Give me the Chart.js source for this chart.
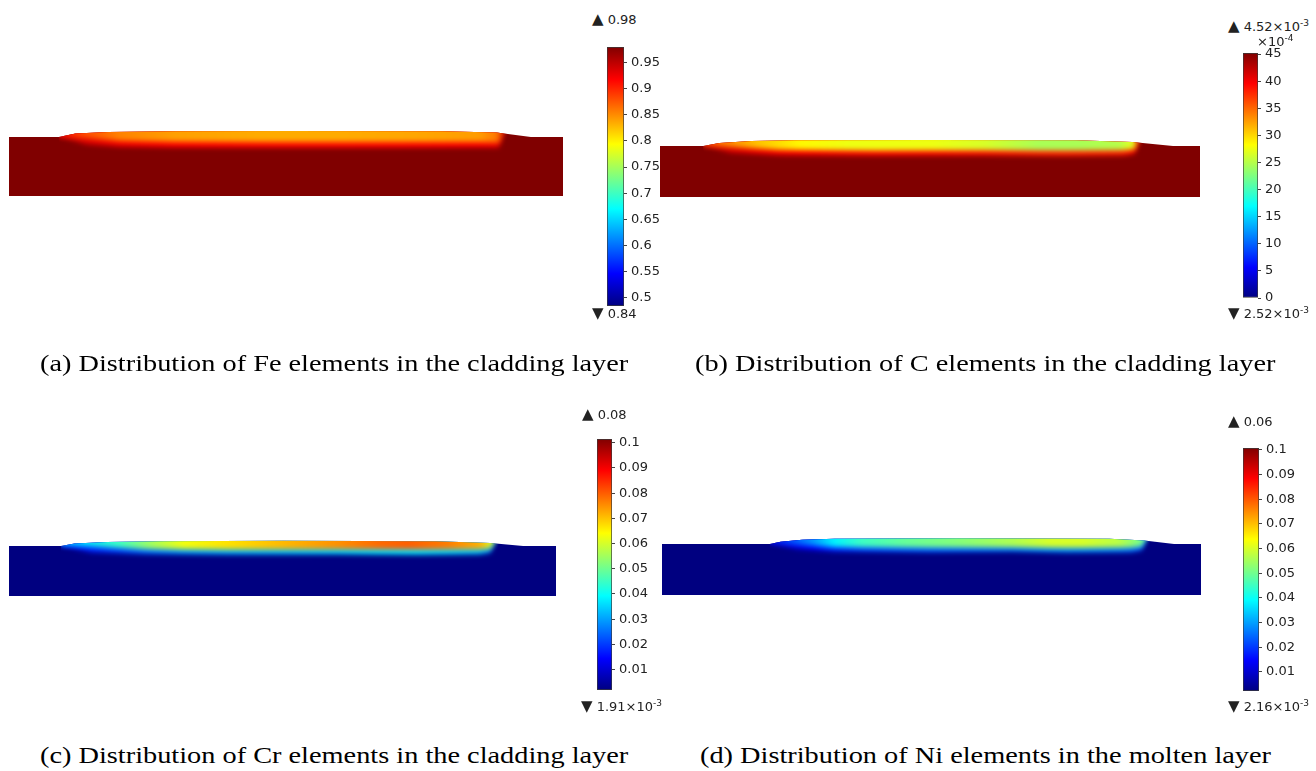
<!DOCTYPE html>
<html>
<head>
<meta charset="utf-8">
<script src="https://cdn.jsdelivr.net/npm/chart.js@4.4.1/dist/chart.umd.min.js"></script>
<style>
  body { margin: 0; background: #fff; width: 1316px; height: 771px; position: relative; overflow: hidden; font-family: "DejaVu Sans", sans-serif; }
  canvas { position: absolute; }
  .lab { position: absolute; font-size: 13px; color: #222; white-space: nowrap; line-height: 14px; }
  .lab b { font-weight: normal; font-size: 15px; }
  .lab sup { font-size: 9px; vertical-align: 5px; line-height: 0; }
  .cap { position: absolute; font-family: "Liberation Serif", "Times New Roman", serif; font-size: 24px; color: #000; white-space: nowrap; line-height: 28px; transform: scaleX(1.18); transform-origin: 0 50%; }
</style>
</head>
<body>
<script>
// ---- data (x, heights in mm; domain is 10 mm wide) ----

// (a) Fe
const feSurfX = [0, 0.9, 1.2, 1.8, 3.0, 5.0, 7.8, 8.8, 9.42, 10];
const feSurfY = [1.065, 1.065, 1.13, 1.155, 1.17, 1.175, 1.168, 1.145, 1.065, 1.065];
const feTopX = [0.9, 1.3, 2.0, 3.0, 4.5, 6.0, 7.5, 8.5, 8.8, 9.0];
const feTopV = [0.92, 0.885, 0.855, 0.84, 0.835, 0.835, 0.838, 0.842, 0.86, 0.95];
const feCladX = [0.9, 1.4, 2.0, 3.0, 5.0, 7.0, 8.5, 8.85, 9.0];
const feCladY = [1.065, 1.04, 0.995, 0.98, 0.975, 0.975, 0.975, 0.96, 1.3];
const feMixY = [1.065, 0.93, 0.89, 0.875, 0.87, 0.87, 0.875, 0.87, 1.3];
const feTicks = [0.5, 0.55, 0.6, 0.65, 0.7, 0.75, 0.8, 0.85, 0.9, 0.95];
const feTickLabels = ["0.5", "0.55", "0.6", "0.65", "0.7", "0.75", "0.8", "0.85", "0.9", "0.95"];

// (b) C  (x10^-4)
const cSurfX = [0, 0.8, 1.1, 1.7, 2.5, 5.0, 7.7, 8.75, 9.5, 10];
const cSurfY = [0.944, 0.944, 1.0, 1.035, 1.05, 1.056, 1.05, 1.02, 0.944, 0.944];
const cTopX = [0.8, 1.2, 1.8, 2.6, 3.5, 5.0, 6.0, 7.0, 7.8, 8.5, 8.75, 8.9];
const cTopV = [37, 34, 31, 28.5, 27.5, 27.5, 26.5, 24.5, 24.5, 25, 27, 40];
const cCladX = [0.8, 1.3, 2.2, 4.0, 6.0, 7.5, 8.6, 8.8, 8.95];
const cCladY = [0.944, 0.92, 0.875, 0.86, 0.865, 0.86, 0.865, 0.89, 1.2];
const cMixY = [0.944, 0.82, 0.775, 0.765, 0.77, 0.76, 0.77, 0.8, 1.2];
const cTicks = [0, 5, 10, 15, 20, 25, 30, 35, 40, 45];
const cTickLabels = ["0", "5", "10", "15", "20", "25", "30", "35", "40", "45"];

// (c) Cr
const crSurfX = [0, 0.95, 1.2, 1.8, 2.8, 5.0, 7.8, 8.8, 9.4, 10];
const crSurfY = [0.914, 0.914, 0.96, 0.985, 1.0, 1.008, 1.0, 0.97, 0.914, 0.914];
const crTopX = [0.95, 1.4, 2.0, 2.6, 3.2, 4.0, 5.0, 6.0, 6.8, 7.3, 8.0, 8.6, 8.85];
const crTopV = [0.03, 0.036, 0.045, 0.055, 0.063, 0.067, 0.071, 0.075, 0.079, 0.08, 0.077, 0.072, 0.06];
const crCladX = [0.95, 1.5, 2.5, 4.0, 6.0, 7.5, 8.6, 8.8, 8.95];
const crCladY = [0.914, 0.9, 0.86, 0.85, 0.855, 0.85, 0.855, 0.87, 1.1];
const crMixY = [0.914, 0.8, 0.77, 0.76, 0.765, 0.755, 0.765, 0.79, 1.1];
const crTicks = [0.01, 0.02, 0.03, 0.04, 0.05, 0.06, 0.07, 0.08, 0.09, 0.1];
const crTickLabels = ["0.01", "0.02", "0.03", "0.04", "0.05", "0.06", "0.07", "0.08", "0.09", "0.1"];

// (d) Ni
const niSurfX = [0, 2.0, 2.2, 2.6, 3.2, 5.5, 8.3, 8.95, 9.5, 10];
const niSurfY = [0.946, 0.946, 0.99, 1.025, 1.045, 1.052, 1.045, 1.01, 0.946, 0.946];
const niTopX = [2.0, 2.4, 2.8, 3.2, 3.7, 4.5, 5.5, 6.5, 7.2, 7.8, 8.5, 8.9];
const niTopV = [0.012, 0.022, 0.029, 0.038, 0.045, 0.049, 0.052, 0.056, 0.06, 0.06, 0.057, 0.05];
const niCladX = [2.0, 2.5, 3.2, 5.0, 6.5, 7.5, 8.7, 8.9, 9.05];
const niCladY = [0.946, 0.93, 0.89, 0.88, 0.885, 0.875, 0.88, 0.9, 1.15];
const niMixY = [0.946, 0.85, 0.805, 0.795, 0.805, 0.79, 0.795, 0.825, 1.15];
const niTicks = [0.01, 0.02, 0.03, 0.04, 0.05, 0.06, 0.07, 0.08, 0.09, 0.1];
const niTickLabels = ["0.01", "0.02", "0.03", "0.04", "0.05", "0.06", "0.07", "0.08", "0.09", "0.1"];

// ---- layout ----
const panels = [
  { dom: [9, 563, 126, 196], bar: [607, 17, 47, 306], range: [0.484, 0.98], sub: 0.98, mixW: 0.55,
    surfX: feSurfX, surfY: feSurfY, topX: feTopX, topV: feTopV, cladX: feCladX, cladY: feCladY, mixY: feMixY,
    ticks: feTicks, tickLabels: feTickLabels },
  { dom: [660, 1200, 136, 197], bar: [1243, 15, 53, 298], range: [0, 45.2], sub: 45.2, mixW: 0.65,
    surfX: cSurfX, surfY: cSurfY, topX: cTopX, topV: cTopV, cladX: cCladX, cladY: cCladY, mixY: cMixY,
    ticks: cTicks, tickLabels: cTickLabels },
  { dom: [9, 556, 536, 596], bar: [597, 15, 439, 690], range: [0.0019, 0.1015], sub: 0.0019, mixW: 0.55,
    surfX: crSurfX, surfY: crSurfY, topX: crTopX, topV: crTopV, cladX: crCladX, cladY: crCladY, mixY: crMixY,
    ticks: crTicks, tickLabels: crTickLabels },
  { dom: [662, 1201, 534, 595], bar: [1243, 16, 448, 691], range: [0.0022, 0.1008], sub: 0.0022, mixW: 0.55,
    surfX: niSurfX, surfY: niSurfY, topX: niTopX, topV: niTopV, cladX: niCladX, cladY: niCladY, mixY: niMixY,
    ticks: niTicks, tickLabels: niTickLabels }
];

const labels = [
  ["<b>&#9650;</b> 0.98", 592, 19], ["<b>&#9660;</b> 0.84", 592, 313],
  ["<b>&#9650;</b> 4.52&times;10<sup>-3</sup>", 1228, 26], ["&times;10<sup>-4</sup>", 1257, 42], ["<b>&#9660;</b> 2.52&times;10<sup>-3</sup>", 1228, 313],
  ["<b>&#9650;</b> 0.08", 582, 414], ["<b>&#9660;</b> 1.91&times;10<sup>-3</sup>", 581, 706],
  ["<b>&#9650;</b> 0.06", 1228, 421], ["<b>&#9660;</b> 2.16&times;10<sup>-3</sup>", 1228, 706]
];
const captions = [
  ["(a) Distribution of Fe elements in the cladding layer", 40, 363],
  ["(b) Distribution of C elements in the cladding layer", 695, 363],
  ["(c) Distribution of Cr elements in the cladding layer", 40, 755],
  ["(d) Distribution of Ni elements in the molten layer", 700, 755]
];

// ---- helpers ----
const jetStops = [[0, [0, 0, 128]], [0.125, [0, 0, 255]], [0.375, [0, 255, 255]], [0.625, [255, 255, 0]], [0.875, [255, 0, 0]], [1, [128, 0, 0]]];
function jet(t) {
  t = Math.max(0, Math.min(1, t));
  for (let i = 1; i < jetStops.length; i++) {
    const [t0, c0] = jetStops[i - 1], [t1, c1] = jetStops[i];
    if (t <= t1) {
      const f = (t - t0) / (t1 - t0);
      return "rgb(" + c0.map((c, k) => Math.round(c + (c1[k] - c) * f)).join(",") + ")";
    }
  }
  return "rgb(128,0,0)";
}

function makeCanvas(left, top, w, h) {
  const cv = document.createElement("canvas");
  cv.width = w; cv.height = h;
  cv.style.left = left + "px"; cv.style.top = top + "px";
  cv.style.width = w + "px"; cv.style.height = h + "px";
  document.body.appendChild(cv);
  return cv;
}

function hGrad(chart, xs, colors) {
  const area = chart.chartArea, sx = chart.scales.x;
  if (!area || !sx) return colors[0];
  const g = chart.ctx.createLinearGradient(area.left, 0, area.right, 0);
  xs.forEach((x, i) => {
    const o = (sx.getPixelForValue(x) - area.left) / (area.right - area.left);
    g.addColorStop(Math.min(1, Math.max(0, o)), colors[i]);
  });
  return g;
}

// blur the cladding layers and clip them to the domain outline
const layerPlugin = {
  id: "layerBlur",
  afterDatasetDraw(chart, args) {
    const role = chart.data.datasets[args.index].role;
    const ctx = chart.ctx;
    if (role === "substrate") {
      const pts = args.meta.data;
      const y0 = chart.scales.y.getPixelForValue(0);
      ctx.save();
      ctx.beginPath();
      ctx.moveTo(pts[0].x, y0);
      pts.forEach(p => ctx.lineTo(p.x, p.y));
      ctx.lineTo(pts[pts.length - 1].x, y0);
      ctx.closePath();
      ctx.clip();
      ctx.filter = "blur(2.5px)";
    } else if (role === "top") {
      ctx.restore();
    }
  }
};

function domainChart(p) {
  const [l, r, t, b] = p.dom;
  const w = r - l, h = b - t;
  const yMax = h / (w / 10);
  const norm = v => (v - p.range[0]) / (p.range[1] - p.range[0]);
  const pts = (xs, ys) => xs.map((x, i) => ({ x: x, y: ys[i] }));
  const topCols = p.topV.map(v => jet(norm(v)));
  const mixCols = p.topV.map(v => jet(norm(v + (p.sub - v) * p.mixW)));
  new Chart(makeCanvas(l, t, w, h), {
    type: "line",
    data: {
      datasets: [
        { role: "top", data: pts(p.cladX, p.cladY), fill: "end", backgroundColor: c => hGrad(c.chart, p.topX, topCols) },
        { role: "mix", data: pts(p.cladX, p.mixY), fill: "end", backgroundColor: c => hGrad(c.chart, p.topX, mixCols) },
        { role: "substrate", data: pts(p.surfX, p.surfY), fill: "origin", backgroundColor: jet(norm(p.sub)) }
      ]
    },
    options: {
      responsive: false, animation: false, events: [],
      layout: { padding: 0 },
      elements: { line: { borderWidth: 0, tension: 0 }, point: { radius: 0 } },
      plugins: { legend: { display: false }, tooltip: { enabled: false } },
      scales: {
        x: { type: "linear", min: 0, max: 10, display: false },
        y: { type: "linear", min: 0, max: yMax, display: false }
      }
    },
    plugins: [layerPlugin]
  });
}

function colorbar(p) {
  const [bl, bw, bt, bb] = p.bar;
  const padV = 14, axisW = 48;
  new Chart(makeCanvas(bl, bt - padV, bw + axisW, bb - bt + 2 * padV), {
    type: "bar",
    data: {
      labels: [""],
      datasets: [{
        data: [[p.range[0], p.range[1]]],
        backgroundColor: c => {
          const ch = c.chart, sy = ch.scales.y;
          if (!ch.chartArea || !sy) return "#888";
          const g = ch.ctx.createLinearGradient(0, sy.getPixelForValue(p.range[0]), 0, sy.getPixelForValue(p.range[1]));
          jetStops.forEach(([s]) => g.addColorStop(s, jet(s)));
          return g;
        },
        borderColor: "#3a3a3a", borderWidth: 1, borderSkipped: false,
        barPercentage: 1, categoryPercentage: 1
      }]
    },
    options: {
      responsive: false, animation: false, events: [],
      layout: { padding: { top: padV, bottom: padV, left: 0, right: 0 } },
      plugins: { legend: { display: false }, tooltip: { enabled: false } },
      scales: {
        x: { display: false },
        y: {
          position: "right", min: p.range[0], max: p.range[1],
          afterFit: a => { a.width = axisW; },
          afterBuildTicks: a => { a.ticks = p.ticks.map(v => ({ value: v })); },
          ticks: { callback: (v, i) => p.tickLabels[i], color: "#222", font: { family: "DejaVu Sans", size: 13 }, padding: 4 },
          grid: { drawOnChartArea: false, tickLength: 3, color: "#444" },
          border: { display: false }
        }
      }
    }
  });
}

panels.forEach(p => { domainChart(p); colorbar(p); });

labels.forEach(([html, x, y]) => {
  const d = document.createElement("div");
  d.className = "lab"; d.innerHTML = html;
  d.style.left = x + "px"; d.style.top = (y - 7) + "px";
  document.body.appendChild(d);
});
captions.forEach(([txt, x, y]) => {
  const d = document.createElement("div");
  d.className = "cap"; d.textContent = txt;
  d.style.left = x + "px"; d.style.top = (y - 14) + "px";
  document.body.appendChild(d);
});
</script>
</body>
</html>
